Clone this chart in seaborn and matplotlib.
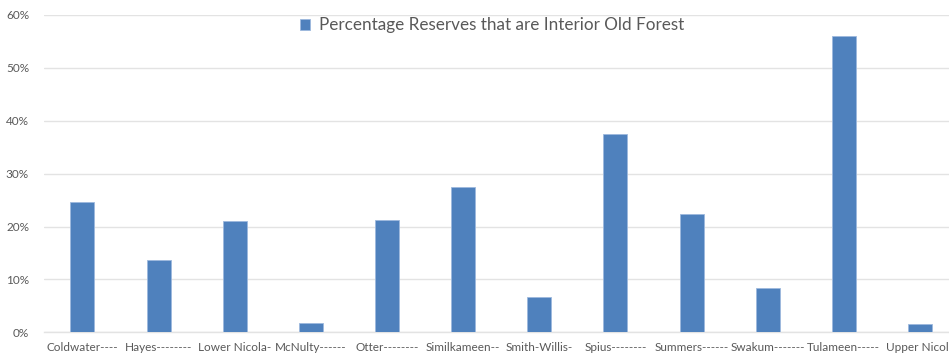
import matplotlib
matplotlib.use("Agg")
import matplotlib.pyplot as plt
import seaborn as sns
import pandas as pd
from matplotlib.ticker import PercentFormatter

categories = ["Coldwater----", "Hayes--------", "Lower Nicola-", "McNulty------",
              "Otter--------", "Similkameen--", "Smith-Willis-", "Spius--------",
              "Summers------", "Swakum-------", "Tulameen-----", "Upper Nicola"]
values = [0.247, 0.136, 0.211, 0.018, 0.213, 0.274, 0.066, 0.375, 0.224, 0.083, 0.561, 0.015]
series_name = "Percentage Reserves that are Interior Old Forest"
y_ticks = [0.0, 0.1, 0.2, 0.3, 0.4, 0.5, 0.6]

df = pd.DataFrame({"Reserve": categories, "Share": values, "Series": series_name})

sns.set_theme(style="white")
plt.rcParams["font.family"] = ["Lato", "DejaVu Sans"]

fig = plt.figure(figsize=(9.49, 3.56), dpi=100)
ax = fig.add_axes([0.0467, 0.0666, 0.9628, 0.8913])

bar_color = "#4F81BD"
sns.barplot(data=df, x="Reserve", y="Share", hue="Series", palette=[bar_color],
            saturation=1, width=0.315, ax=ax, edgecolor="#9DB9DE", linewidth=0.6,
            zorder=3)

ax.set_ylim(0, 0.6)
ax.set_xlim(-0.5, len(categories) - 0.5)
ax.set_yticks(y_ticks)
ax.yaxis.set_major_formatter(PercentFormatter(1.0, decimals=0))
ax.grid(axis="y", color="#E3E3E3", linewidth=1.0, zorder=0)
ax.grid(axis="x", visible=False)
for s in ["top", "right", "left"]:
    ax.spines[s].set_visible(False)
ax.spines["bottom"].set_color("#E3E3E3")
ax.spines["bottom"].set_linewidth(1.0)
ax.set_xlabel("")
ax.set_ylabel("")
ax.tick_params(axis="both", length=0, colors="#595959", labelsize=8.5)
ax.tick_params(axis="y", pad=11)
ax.tick_params(axis="x", pad=7)

leg = ax.legend(loc="upper center", bbox_to_anchor=(0.49, 1.03), frameon=False,
                fontsize=12.3, handlelength=0.6, handleheight=0.6, handletextpad=0.5,
                borderaxespad=0.3)
for t in leg.get_texts():
    t.set_color("#595959")

fig.savefig("out.png", dpi=100)
